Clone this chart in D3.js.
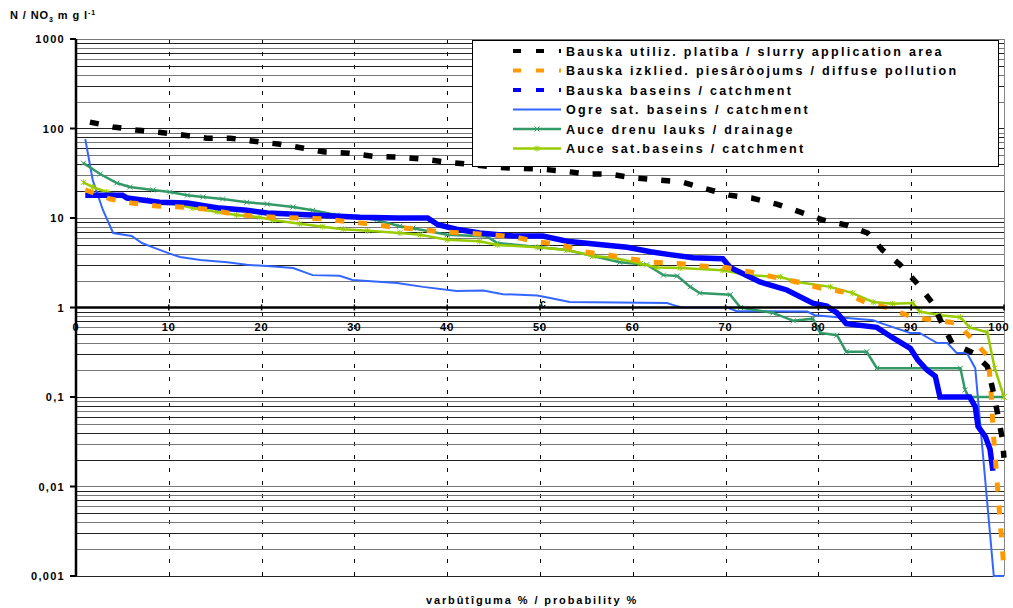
<!DOCTYPE html>
<html>
<head>
<meta charset="utf-8">
<script src="https://cdn.jsdelivr.net/npm/d3@7"></script>
<style>
  body { margin: 0; background: #fff; }
  text { font-family: "Liberation Sans", Arial, sans-serif; font-weight: bold; fill: #000; }
</style>
</head>
<body>
<div id="chart"></div>
<script>
// chart data: [probability %, N/NO3 mg/l]
var slurryData = [[1.5,118],[4,104],[6.5,96],[8.9,91],[11.5,84.5],[14.1,78],[16.6,78],[19.2,72],[21.8,67],[24.4,60.5],[26.8,54.6],[29.4,53],[32,49],[34.6,48],[37.3,45.6],[39.8,42.3],[42.2,40],[45,37],[47.5,36],[49.9,35.3],[52.5,33.5],[55,31],[57.4,31],[60.2,28],[62.7,26.6],[65.3,25.2],[68,21],[70.4,18],[72.8,16.7],[75.5,14.3],[78,11.7],[80.5,9.5],[82.9,8.4],[85.3,6.8],[86.9,4.4],[88.8,3.0],[90.6,1.88],[92.3,1.12],[93.3,0.67],[94.4,0.40],[96.7,0.31],[98.2,0.22],[98.8,0.12],[99.3,0.066],[99.8,0.035],[100,0.021]];
var diffuseData = [[1,20.6],[3.7,16.3],[6,14.7],[8.7,13.6],[11.2,13.3],[13.9,12.6],[16.4,11.4],[19,10.5],[21.4,10.2],[24.1,10.0],[26.6,9.8],[29,9.2],[31.6,8.6],[34.2,7.9],[36.9,7.5],[39.4,7.0],[42,6.8],[44.6,6.5],[47.1,6.2],[49.7,5.4],[52.2,5.1],[54.6,4.2],[57.2,3.9],[59.7,3.5],[62.2,3.2],[64.9,3.1],[67.5,2.9],[70,2.8],[72.6,2.5],[75.1,2.2],[77.7,1.93],[80.2,1.65],[82.7,1.49],[85,1.15],[87.5,0.99],[90.1,0.78],[92.6,0.72],[94.9,0.67],[96.9,0.41],[98.3,0.28],[98.5,0.155],[98.7,0.085],[98.8,0.045],[99,0.025],[99.2,0.0135],[99.4,0.0073],[99.6,0.0039],[99.8,0.0022],[100,0.00115]];
var bauskaCatchData = [[1,18],[5,18],[5.5,16.7],[9,15],[12,14.7],[15.5,12.9],[18.4,12.2],[20.6,11.4],[25.5,10.8],[30.6,10.2],[34.6,10],[37.9,10],[39,8.4],[41,7.5],[43.5,6.8],[47.1,6.3],[50.3,6.3],[52.9,5.5],[56.1,5.1],[59.4,4.7],[61.9,4.2],[64,3.9],[66.5,3.6],[69.7,3.5],[70.5,2.8],[73.7,1.93],[76.6,1.57],[79.4,1.12],[80.9,1.04],[82,0.87],[83,0.66],[86.3,0.6],[88,0.46],[89.9,0.35],[90.7,0.26],[91.7,0.2],[92.6,0.17],[93.1,0.1],[96.3,0.1],[96.9,0.078],[97.2,0.047],[98,0.036],[98.5,0.026],[98.8,0.015]];
var ogreData = [[1,76],[1.8,26.6],[2.9,12.3],[4,6.8],[6,6.3],[7.1,5.25],[8.3,4.7],[10.1,4.0],[11.2,3.66],[13.4,3.4],[16.3,3.2],[18.4,3.0],[20.6,2.9],[23.4,2.76],[25.5,2.3],[28.4,2.26],[29.8,2.03],[34.6,1.88],[37.4,1.7],[41,1.53],[43.9,1.55],[46,1.41],[49.7,1.36],[51.1,1.28],[53.2,1.15],[63.7,1.12],[64.3,1.07],[65.3,1.0],[70.2,1.0],[71.2,0.91],[78.8,0.9],[79.6,0.82],[85.9,0.72],[86.9,0.66],[89.9,0.52],[90.9,0.52],[92.8,0.4],[93.9,0.4],[94.9,0.31],[96,0.31],[96.9,0.21],[98.9,0.001],[100,0.001]];
var drainageData = [[0.8,41],[2.6,31],[4.4,24.6],[5.8,22.2],[8.3,20.6],[10.1,19.5],[12,18],[13.7,17.2],[15.8,16.3],[18.4,15],[20.6,14.3],[23.4,13.3],[25.5,12.2],[28.1,10.8],[30.6,10.2],[32.4,9.5],[34.9,8.1],[36.3,7.7],[40,6.5],[44.3,6.2],[45.4,5.25],[50,4.7],[52.9,4.4],[55.7,3.76],[58.6,3.2],[61.5,3.0],[63.3,2.3],[64.8,2.25],[66.2,1.7],[67.2,1.45],[70.5,1.39],[71.6,1.0],[75.1,0.87],[77.3,0.71],[79.4,0.75],[80.2,0.52],[82,0.49],[83,0.32],[85.2,0.32],[86.3,0.21],[95.3,0.21],[95.8,0.12],[96.2,0.1],[100,0.1]];
var auceCatchData = [[0.8,25],[1.8,22.2],[3.3,19.5],[5.5,17.2],[7.7,15.9],[10.1,14.7],[12.6,12.9],[15.2,11.7],[17.3,10.8],[19.8,10.2],[21.2,9.5],[24.1,8.6],[26.6,8.0],[28.8,7.5],[31.4,7.2],[34.9,6.8],[37.1,6.5],[40,5.7],[43.5,5.5],[45.4,5.0],[49.7,4.7],[52.9,4.4],[55.7,3.76],[57.9,3.6],[60.8,3.1],[62.6,2.8],[65.1,2.76],[69.7,2.6],[72.3,2.3],[75.9,2.2],[77.7,1.93],[81.3,1.7],[83.7,1.45],[85.9,1.15],[88,1.1],[90.2,1.12],[90.9,0.9],[93.1,0.82],[95.3,0.78],[96.3,0.6],[98.2,0.53],[99,0.21],[100,0.1]];

var seriesNames = [
  "Bauska utiliz. platîba / slurry application area",
  "Bauska izklied. piesâròojums / diffuse pollution",
  "Bauska baseins / catchment",
  "Ogre sat. baseins / catchment",
  "Auce drenu lauks / drainage",
  "Auce sat.baseins / catchment"
];
var xTicks = [0, 10, 20, 30, 40, 50, 60, 70, 80, 90, 100];
var yTicks = [1000, 100, 10, 1, 0.1, 0.01, 0.001];
var yTickLabels = ["1000", "100", "10", "1", "0,1", "0,01", "0,001"];

// chart area in page pixels
var W = 1013, H = 608;
var plot = {left: 76, right: 1004, top: 39, bottom: 576};

var x = d3.scaleLinear().domain([0, 100]).range([plot.left, plot.right]);
var y = d3.scaleLog().domain([0.001, 1000]).range([plot.bottom, plot.top]);

var svg = d3.select("#chart").append("svg")
    .attr("width", W)
    .attr("height", H);

// vertical dashed gridlines
svg.append("g").selectAll("line")
    .data(xTicks.filter(function(d) { return d > 0 && d < 100; }))
  .enter().append("line")
    .attr("x1", function(d) { return Math.round(x(d)) + 0.5; })
    .attr("x2", function(d) { return Math.round(x(d)) + 0.5; })
    .attr("y1", plot.top).attr("y2", plot.bottom)
    .attr("stroke", "#000")
    .attr("stroke-width", 1)
    .attr("stroke-dasharray", "4,9");

// right border
svg.append("line")
    .attr("x1", Math.round(x(100)) + 0.5).attr("x2", Math.round(x(100)) + 0.5)
    .attr("y1", plot.top).attr("y2", plot.bottom)
    .attr("stroke", "#888");

// horizontal log gridlines (1..9 per decade)
var gridVals = [];
[0.001, 0.01, 0.1, 1, 10, 100].forEach(function(dec) {
  for (var k = 1; k <= 9; k++) gridVals.push(k * dec);
});
gridVals.push(1000);
svg.append("g").selectAll("line")
    .data(gridVals.filter(function(d) { return d !== 1; }))
  .enter().append("line")
    .attr("x1", plot.left).attr("x2", plot.right)
    .attr("y1", function(d) { return Math.round(y(d)) + 0.5; })
    .attr("y2", function(d) { return Math.round(y(d)) + 0.5; })
    .attr("stroke", function(d, i) { return i % 2 ? "#777" : "#222"; })
    .attr("stroke-width", 1);

// the series
var line = d3.line()
    .x(function(d) { return x(d[0]); })
    .y(function(d) { return y(d[1]); });

var series = [
  {data: ogreData,        color: "#3366ff", width: 2},
  {data: drainageData,    color: "#339966", width: 2.5, marker: "x"},
  {data: auceCatchData,   color: "#99cc00", width: 2.5, marker: "star"},
  {data: bauskaCatchData, color: "#0000ff", width: 5.5},
  {data: diffuseData,     color: "#ff9900", width: 5, dash: "9,14"},
  {data: slurryData,      color: "#000000", width: 5.5, dash: "9,14"}
];

function drawMarker(g, type, cx, cy, color) {
  var s = 2.5;
  g.append("path")
    .attr("d", "M" + (cx - s) + "," + (cy - s) + "L" + (cx + s) + "," + (cy + s) +
               "M" + (cx - s) + "," + (cy + s) + "L" + (cx + s) + "," + (cy - s) +
               (type === "star" ? "M" + cx + "," + (cy - s - 0.5) + "L" + cx + "," + (cy + s + 0.5) : ""))
    .attr("stroke", color)
    .attr("stroke-width", 1)
    .attr("fill", "none");
}

series.forEach(function(s) {
  svg.append("path")
    .datum(s.data)
    .attr("fill", "none")
    .attr("stroke", s.color)
    .attr("stroke-width", s.width)
    .attr("stroke-dasharray", s.dash || null)
    .attr("d", line);
  if (s.marker) {
    var mg = svg.append("g");
    s.data.forEach(function(d) { drawMarker(mg, s.marker, x(d[0]), y(d[1]), s.color); });
  }
});

// x axis crossing at 1
svg.append("line")
    .attr("x1", plot.left).attr("x2", plot.right)
    .attr("y1", y(1)).attr("y2", y(1))
    .attr("stroke", "#000").attr("stroke-width", 2.5);
svg.append("g").selectAll("line")
    .data(xTicks)
  .enter().append("line")
    .attr("x1", function(d) { return x(d); }).attr("x2", function(d) { return x(d); })
    .attr("y1", y(1) - 3).attr("y2", y(1) + 3)
    .attr("stroke", "#000").attr("stroke-width", 1.5);
svg.append("g").selectAll("text")
    .data(xTicks)
  .enter().append("text")
    .attr("x", function(d) { return d === 100 ? x(d) - 5 : x(d); })
    .attr("y", y(1) + 23)
    .attr("text-anchor", "middle")
    .attr("font-size", 11)
    .attr("letter-spacing", 1)
    .text(function(d) { return d; });

svg.append("text")
    .attr("x", x(50) + 3)
    .attr("y", y(1) - 1)
    .attr("text-anchor", "middle")
    .attr("font-size", 10)
    .text("c");

// y axis
svg.append("line")
    .attr("x1", plot.left).attr("x2", plot.left)
    .attr("y1", plot.top).attr("y2", plot.bottom)
    .attr("stroke", "#000").attr("stroke-width", 2.5);
svg.append("g").selectAll("line")
    .data(yTicks)
  .enter().append("line")
    .attr("x1", plot.left - 6).attr("x2", plot.left)
    .attr("y1", function(d) { return y(d); }).attr("y2", function(d) { return y(d); })
    .attr("stroke", "#000").attr("stroke-width", 2);
svg.append("g").selectAll("text")
    .data(yTicks)
  .enter().append("text")
    .attr("x", 65)
    .attr("y", function(d) { return y(d) + 4; })
    .attr("text-anchor", "end")
    .attr("font-size", 11)
    .attr("letter-spacing", 1.3)
    .text(function(d, i) { return yTickLabels[i]; });

// axis titles
var yt = svg.append("text")
    .attr("x", 10).attr("y", 19)
    .attr("font-size", 11)
    .attr("letter-spacing", 0.9);
yt.append("tspan").text("N / NO");
yt.append("tspan").attr("font-size", 7).attr("dy", 3).text("3");
yt.append("tspan").attr("dy", -3).text(" m g  l");
yt.append("tspan").attr("font-size", 7).attr("dy", -4).text("-1");

svg.append("text")
    .attr("x", 532).attr("y", 604)
    .attr("text-anchor", "middle")
    .attr("font-size", 11)
    .attr("letter-spacing", 1.9)
    .text("varbûtîguma % / probability %");

// legend
var legend = svg.append("g");
legend.append("rect")
    .attr("x", 472.5).attr("y", 40.5)
    .attr("width", 526).attr("height", 126)
    .attr("fill", "#fff")
    .attr("stroke", "#000").attr("stroke-width", 1);

var legendStyles = [
  {color: "#000000", width: 4, dash: "8,15"},
  {color: "#ff9900", width: 4, dash: "8,15"},
  {color: "#0000ff", width: 4, dash: "8,15"},
  {color: "#3366ff", width: 2},
  {color: "#339966", width: 2.5, marker: "x"},
  {color: "#99cc00", width: 2.5, marker: "star"}
];

seriesNames.forEach(function(name, i) {
  var ly = 51 + i * 19.5;
  var st = legendStyles[i];
  legend.append("line")
      .attr("x1", 513).attr("x2", 561)
      .attr("y1", ly).attr("y2", ly)
      .attr("stroke", st.color)
      .attr("stroke-width", st.width)
      .attr("stroke-dasharray", st.dash || null);
  if (st.marker) drawMarker(legend, st.marker, 537, ly, st.color);
  legend.append("text")
      .attr("x", 566).attr("y", ly + 4.5)
      .attr("font-size", 12.5)
      .attr("letter-spacing", 2.3)
      .text(name);
});
</script>
</body>
</html>
